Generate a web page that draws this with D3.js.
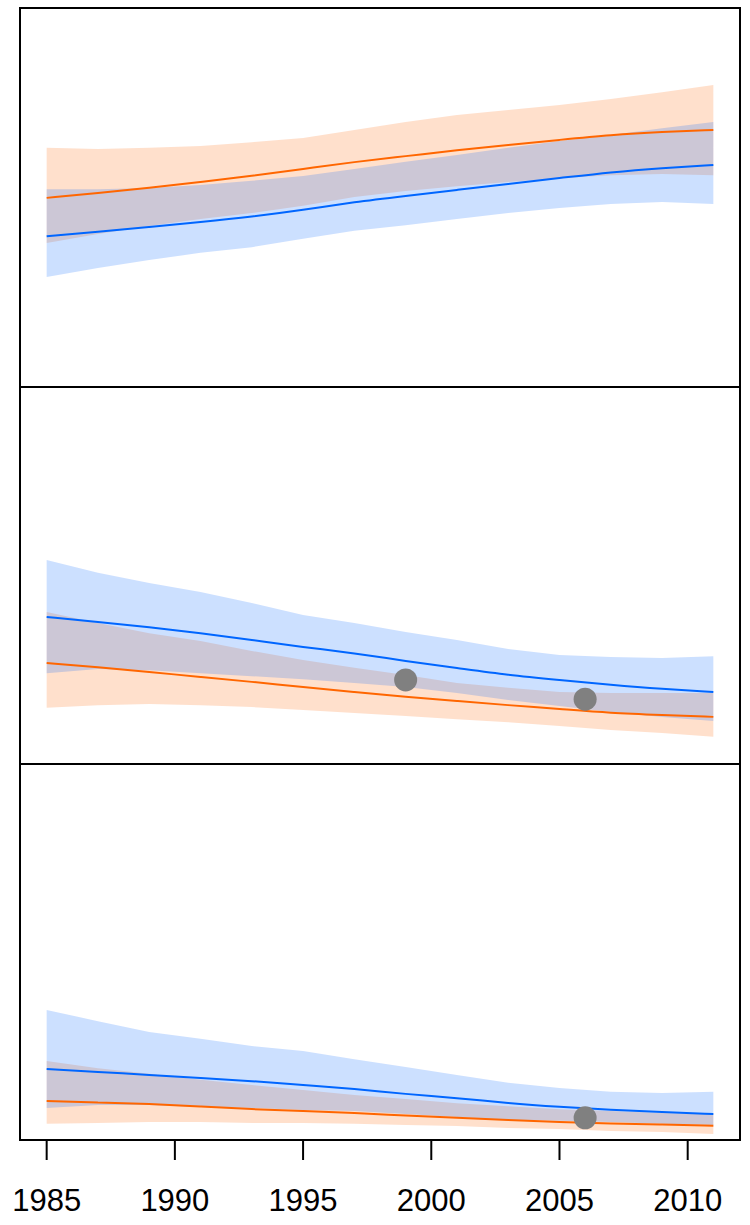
<!DOCTYPE html>
<html>
<head>
<meta charset="utf-8">
<script src="https://cdn.jsdelivr.net/npm/d3@7"></script>
<style>
  html, body { margin: 0; padding: 0; background: #ffffff; }
  svg { display: block; }
</style>
</head>
<body>
<script>
// ---------- data ----------
const years = [1985, 1987, 1989, 1991, 1993, 1995, 1997, 1999, 2001, 2003, 2005, 2007, 2009, 2011];
const tickYears = [1985, 1990, 1995, 2000, 2005, 2010];

// Panel 1
const p1OrangeUpper = [63.1, 62.8, 63.1, 63.6, 64.6, 65.7, 67.8, 69.9, 71.8, 73.1, 74.4, 76.0, 77.8, 79.7];
const p1OrangeMean  = [49.9, 51.2, 52.5, 54.1, 55.7, 57.5, 59.4, 60.9, 62.5, 63.9, 65.2, 66.5, 67.3, 67.8];
const p1OrangeLower = [38.0, 40.4, 42.5, 44.3, 45.9, 47.8, 50.1, 51.7, 53.0, 54.1, 55.1, 55.9, 56.2, 55.9];
const p1BlueUpper   = [52.2, 52.2, 52.5, 53.3, 54.4, 55.7, 57.5, 59.4, 61.2, 63.1, 64.9, 66.5, 68.3, 69.9];
const p1BlueMean    = [39.8, 40.9, 42.2, 43.5, 44.9, 46.7, 48.8, 50.4, 52.0, 53.6, 55.1, 56.7, 57.8, 58.6];
const p1BlueLower   = [29.0, 31.4, 33.5, 35.4, 36.9, 39.1, 41.2, 42.7, 44.3, 45.9, 47.2, 48.3, 48.8, 48.3];
const p1PointYears  = [];
const p1PointValues = [];

// Panel 2
const p2OrangeUpper = [40.3, 37.4, 34.7, 32.6, 30.0, 27.6, 25.5, 23.6, 21.5, 20.2, 19.1, 18.8, 18.8, 18.8];
const p2OrangeMean  = [26.8, 25.7, 24.4, 23.1, 21.8, 20.4, 19.1, 17.8, 16.7, 15.6, 14.6, 13.5, 13.0, 12.5];
const p2OrangeLower = [14.9, 15.6, 15.9, 15.6, 15.1, 14.3, 13.5, 12.7, 11.9, 11.1, 10.1, 9.0, 8.2, 7.2];
const p2BlueUpper   = [54.1, 50.7, 48.0, 45.6, 42.7, 39.5, 37.4, 35.0, 32.9, 30.5, 28.9, 28.4, 28.1, 28.6];
const p2BlueMean    = [39.0, 37.7, 36.3, 34.7, 32.9, 31.0, 29.4, 27.3, 25.5, 23.6, 22.3, 21.0, 19.9, 19.1];
const p2BlueLower   = [24.1, 25.2, 24.9, 24.1, 23.3, 22.5, 21.5, 20.4, 18.8, 17.0, 15.4, 13.8, 12.5, 11.4];
const p2PointYears  = [1999, 2006];
const p2PointValues = [22.3, 17.2];

// Panel 3
const p3OrangeUpper = [21.0, 19.1, 17.6, 16.0, 14.6, 13.3, 12.0, 10.9, 9.8, 9.0, 8.2, 7.7, 7.2, 6.9];
const p3OrangeMean  = [10.4, 10.0, 9.6, 8.9, 8.2, 7.7, 7.2, 6.5, 5.9, 5.3, 4.8, 4.4, 4.1, 3.8];
const p3OrangeLower = [4.3, 4.5, 4.8, 4.8, 4.5, 4.5, 4.3, 4.0, 3.7, 3.2, 2.9, 2.4, 2.1, 1.6];
const p3BlueUpper   = [34.6, 31.6, 28.7, 26.9, 25.0, 23.7, 21.5, 19.4, 17.3, 15.2, 13.8, 12.8, 12.5, 12.8];
const p3BlueMean    = [18.9, 18.1, 17.3, 16.5, 15.7, 14.6, 13.6, 12.2, 11.2, 9.8, 8.8, 8.0, 7.4, 6.9];
const p3BlueLower   = [8.5, 9.3, 9.3, 8.8, 8.5, 8.0, 7.7, 6.9, 6.1, 5.3, 5.1, 4.8, 4.3, 4.0];
const p3PointYears  = [2006];
const p3PointValues = [5.9];

const panels = [
  { ou: p1OrangeUpper, om: p1OrangeMean, ol: p1OrangeLower, bu: p1BlueUpper, bm: p1BlueMean, bl: p1BlueLower, px: p1PointYears, pv: p1PointValues },
  { ou: p2OrangeUpper, om: p2OrangeMean, ol: p2OrangeLower, bu: p2BlueUpper, bm: p2BlueMean, bl: p2BlueLower, px: p2PointYears, pv: p2PointValues },
  { ou: p3OrangeUpper, om: p3OrangeMean, ol: p3OrangeLower, bu: p3BlueUpper, bm: p3BlueMean, bl: p3BlueLower, px: p3PointYears, pv: p3PointValues }
];

// ---------- layout ----------
const W = 750, H = 1225;
const left = 20, right = 740;
const panelEdges = [8, 387, 764, 1140];

const svg = d3.select("body").append("svg").attr("width", W).attr("height", H);

const xMin = 1985, xMax = 2011, pad = (xMax - xMin) * 0.04;
const x = d3.scaleLinear().domain([xMin - pad, xMax + pad]).range([left, right]);

const ORANGE = "#FF6600", BLUE = "#0066FF";

panels.forEach((p, i) => {
  const top = panelEdges[i], bottom = panelEdges[i + 1];
  const y = d3.scaleLinear().domain([0, 100]).range([bottom, top]);
  const g = svg.append("g");

  const band = (lo, hi) => d3.area()
    .x((d, j) => x(years[j]))
    .y0((d, j) => y(lo[j]))
    .y1((d, j) => y(hi[j]))(years);
  const line = (vals) => d3.line()
    .x((d, j) => x(years[j]))
    .y((d, j) => y(vals[j]))
    .curve(d3.curveBasis)(years);

  g.append("path").attr("d", band(p.ol, p.ou)).attr("fill", ORANGE).attr("fill-opacity", 0.2);
  g.append("path").attr("d", band(p.bl, p.bu)).attr("fill", BLUE).attr("fill-opacity", 0.2);
  g.append("path").attr("d", line(p.om)).attr("fill", "none").attr("stroke", ORANGE).attr("stroke-width", 2);
  g.append("path").attr("d", line(p.bm)).attr("fill", "none").attr("stroke", BLUE).attr("stroke-width", 2);

  g.selectAll("circle").data(p.px).join("circle")
    .attr("cx", d => x(d))
    .attr("cy", (d, j) => y(p.pv[j]))
    .attr("r", 11.5)
    .attr("fill", "#808080");

  g.append("rect")
    .attr("x", left).attr("y", top)
    .attr("width", right - left).attr("height", bottom - top)
    .attr("fill", "none").attr("stroke", "#000").attr("stroke-width", 2);
});

// ---------- x axis ----------
const axisG = svg.append("g").attr("transform", `translate(0,${panelEdges[3]})`);
axisG.selectAll("line").data(tickYears).join("line")
  .attr("x1", d => x(d)).attr("x2", d => x(d))
  .attr("y1", 0).attr("y2", 20)
  .attr("stroke", "#000").attr("stroke-width", 2);
axisG.selectAll("text").data(tickYears).join("text")
  .attr("x", d => x(d)).attr("y", 71)
  .attr("text-anchor", "middle")
  .attr("font-family", "Liberation Sans, Arial, sans-serif")
  .attr("font-size", 31)
  .attr("fill", "#000")
  .text(d => d);
</script>
</body>
</html>
